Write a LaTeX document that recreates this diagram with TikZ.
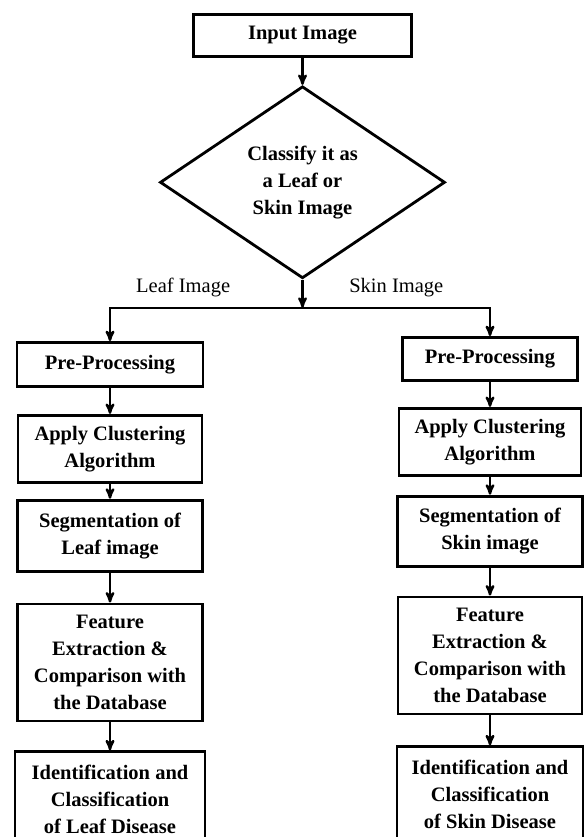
\documentclass[tikz,border=0pt]{standalone}
\usepackage{fontspec}
\setmainfont{Liberation Serif}
\usetikzlibrary{shapes.geometric, positioning, arrows}
\tikzset{>=stealth',
node distance=26pt,
procbox/.style={draw, line width=2.8pt, align=center, inner sep=2pt,
  font=\fontsize{20.5}{27}\selectfont\bfseries},
decision/.style={diamond, draw, line width=2.8pt, align=center, inner sep=0pt,
  minimum width=285pt, minimum height=192pt,
  font=\fontsize{20.5}{27}\selectfont\bfseries},
flow/.style={->, line width=2.4pt},
branchlabel/.style={font=\fontsize{20.5}{27}\selectfont, above=6pt}}

\begin{document}
\begin{tikzpicture}[x=1pt, y=1pt]
\useasboundingbox (0,0) rectangle (586,-837);
\node[procbox, minimum width=218pt, minimum height=42pt] (input) at (302.5,-35.5) {Input Image};
\node[decision, below=27pt of input] (classify) {Classify it as\\a Leaf or\\Skin Image};
\coordinate[below=28pt of classify] (split);
% leaf branch
\node[procbox, minimum width=186pt, minimum height=44pt] (lpre) at (110,-364.5) {Pre-Processing};
\node[procbox, minimum width=184pt, minimum height=67pt, below=26pt of lpre] (lapply) {Apply Clustering\\Algorithm};
\node[procbox, minimum width=185pt, minimum height=71pt, below=15pt of lapply] (lseg) {Segmentation of\\Leaf image};
\node[procbox, minimum width=185pt, minimum height=117pt, below=30pt of lseg] (lfeat) {Feature\\Extraction \&\\Comparison with\\the Database};
\node[procbox, minimum width=190pt, minimum height=95pt, below=28pt of lfeat] (lident) {Identification and\\Classification\\of Leaf Disease};
% skin branch
\node[procbox, minimum width=175pt, minimum height=43pt] (rpre) at (490,-359) {Pre-Processing};
\node[procbox, minimum width=182pt, minimum height=67pt, below=25pt of rpre] (rapply) {Apply Clustering\\Algorithm};
\node[procbox, minimum width=185pt, minimum height=70pt, below=18pt of rapply] (rseg) {Segmentation of\\Skin image};
\node[procbox, minimum width=184pt, minimum height=117pt, below=28pt of rseg] (rfeat) {Feature\\Extraction \&\\Comparison with\\the Database};
\node[procbox, minimum width=186pt, minimum height=95pt, below=30pt of rfeat] (rident) {Identification and\\Classification\\of Skin Disease};
\draw[flow] (input) -- (classify);
\draw[flow] (classify) -- (split);
\draw[flow] (split) -| node[branchlabel, pos=0.31]{Leaf Image} (lpre);
\draw[flow] (split) -| node[branchlabel, pos=0.25]{Skin Image} (rpre);
\draw[flow] (lpre) -- (lapply);
\draw[flow] (lapply) -- (lseg);
\draw[flow] (lseg) -- (lfeat);
\draw[flow] (lfeat) -- (lident);
\draw[flow] (rpre) -- (rapply);
\draw[flow] (rapply) -- (rseg);
\draw[flow] (rseg) -- (rfeat);
\draw[flow] (rfeat) -- (rident);
\end{tikzpicture}
\end{document}
